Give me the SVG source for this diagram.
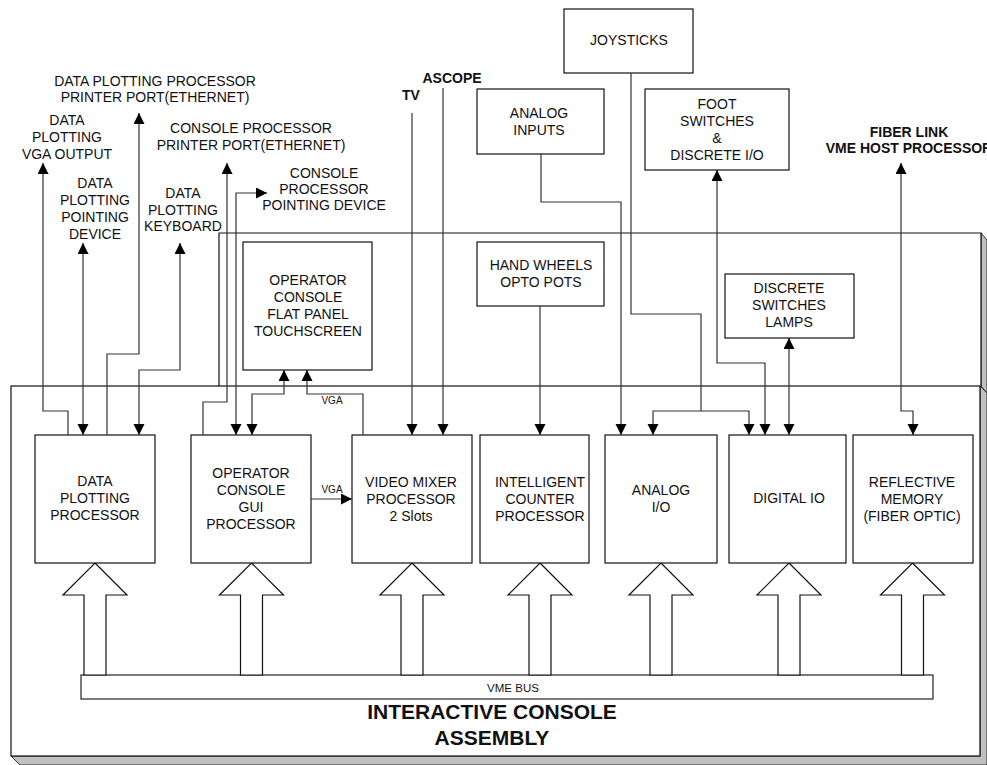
<svg xmlns="http://www.w3.org/2000/svg" width="987" height="765" viewBox="0 0 987 765">
<style>
.t{font-family:"Liberation Sans",Arial,sans-serif;font-size:14px;text-anchor:middle;fill:#111}
.b{font-weight:bold}
.s{font-size:10px}
.big{font-size:21px;font-weight:bold}
.box{fill:#fff;stroke:#111;stroke-width:1.2}
.frame{fill:#fff;stroke:#111;stroke-width:1.2}
.shade{fill:#c0c0c0;stroke:#333;stroke-width:1}
.bus{fill:#fff;stroke:#222;stroke-width:1.2}
.c{fill:none;stroke:#333;stroke-width:1.2}
.c1{marker-end:url(#ah)}
.c2{marker-start:url(#ah);marker-end:url(#ah)}
</style>
<defs>
<marker id="ah" markerUnits="userSpaceOnUse" markerWidth="12" markerHeight="12" refX="11" refY="5.5" orient="auto-start-reverse">
<path d="M0,0 L11,5.5 L0,11 z" fill="#000"/>
</marker>
</defs>
<rect width="987" height="765" fill="#fff"/>

<g id="console-assembly">
<polygon class="shade" points="981,233 987,240 987,393 981,386"/>
<path class="frame" d="M219,386 V233 H981 V386"/>
<polygon class="shade" points="980,386 987,393 987,765 20,765 11,756 980,756"/>
<rect class="frame" x="11" y="386" width="969" height="370"/>
<text class="t big" x="492" y="719">INTERACTIVE CONSOLE</text>
<text class="t big" x="492" y="745">ASSEMBLY</text>
</g>

<g id="vme-bus">
<rect class="bus" x="81" y="675" width="852" height="24"/>
<text class="t" style="font-size:11.5px" x="513" y="692">VME BUS</text>
</g>

<g id="bus-arrows">
<polygon class="box" points="95,563 127,595 106,595 106,675 84,675 84,595 63,595"/>
<polygon class="box" points="251.5,563 283.5,595 262.5,595 262.5,675 240.5,675 240.5,595 219.5,595"/>
<polygon class="box" points="412,563 444,595 423,595 423,675 401,675 401,595 380,595"/>
<polygon class="box" points="540,563 572,595 551,595 551,675 529,675 529,595 508,595"/>
<polygon class="box" points="661,563 693,595 672,595 672,675 650,675 650,595 629,595"/>
<polygon class="box" points="789,563 821,595 800,595 800,675 778,675 778,595 757,595"/>
<polygon class="box" points="912.5,563 944.5,595 923.5,595 923.5,675 901.5,675 901.5,595 880.5,595"/>
</g>

<g id="data-plotting-processor">
<rect class="box" x="35" y="435" width="120" height="128"/>
<text class="t" x="95" y="486">DATA</text>
<text class="t" x="95" y="503">PLOTTING</text>
<text class="t" x="95" y="520">PROCESSOR</text>
</g>

<g id="gui-processor">
<rect class="box" x="191" y="435" width="120" height="128"/>
<text class="t" x="251" y="478">OPERATOR</text>
<text class="t" x="251" y="495">CONSOLE</text>
<text class="t" x="251" y="512">GUI</text>
<text class="t" x="251" y="529">PROCESSOR</text>
</g>

<g id="video-mixer">
<rect class="box" x="352" y="435" width="120" height="128"/>
<text class="t" x="411" y="487">VIDEO MIXER</text>
<text class="t" x="411" y="504">PROCESSOR</text>
<text class="t" x="411" y="521">2 Slots</text>
</g>

<g id="intelligent-counter">
<rect class="box" x="480" y="435" width="109" height="128"/>
<text class="t" x="540" y="487">INTELLIGENT</text>
<text class="t" x="540" y="504">COUNTER</text>
<text class="t" x="540" y="521">PROCESSOR</text>
</g>

<g id="analog-io">
<rect class="box" x="605" y="435" width="112" height="128"/>
<text class="t" x="661" y="495">ANALOG</text>
<text class="t" x="661" y="512">I/O</text>
</g>

<g id="digital-io">
<rect class="box" x="729" y="435" width="117" height="128"/>
<text class="t" x="789" y="503">DIGITAL IO</text>
</g>

<g id="reflective-memory">
<rect class="box" x="853" y="435" width="120" height="128"/>
<text class="t" x="912" y="487">REFLECTIVE</text>
<text class="t" x="912" y="504">MEMORY</text>
<text class="t" x="912" y="521">(FIBER OPTIC)</text>
</g>

<g id="touchscreen">
<rect class="box" x="243" y="242" width="129" height="128"/>
<text class="t" x="308" y="285">OPERATOR</text>
<text class="t" x="308" y="302">CONSOLE</text>
<text class="t" x="308" y="319">FLAT PANEL</text>
<text class="t" x="308" y="336">TOUCHSCREEN</text>
</g>

<g id="hand-wheels">
<rect class="box" x="477" y="242" width="127" height="64"/>
<text class="t" x="541" y="270">HAND WHEELS</text>
<text class="t" x="541" y="287">OPTO POTS</text>
</g>

<g id="discrete-switches">
<rect class="box" x="725" y="274" width="129" height="64"/>
<text class="t" x="789" y="293">DISCRETE</text>
<text class="t" x="789" y="310">SWITCHES</text>
<text class="t" x="789" y="327">LAMPS</text>
</g>

<g id="joysticks">
<rect class="box" x="564" y="9" width="129" height="64"/>
<text class="t" x="629" y="45">JOYSTICKS</text>
</g>

<g id="analog-inputs">
<rect class="box" x="477" y="89" width="127" height="65"/>
<text class="t" x="539" y="118">ANALOG</text>
<text class="t" x="539" y="135">INPUTS</text>
</g>

<g id="foot-switches">
<rect class="box" x="645" y="89" width="144" height="81"/>
<text class="t" x="717" y="109">FOOT</text>
<text class="t" x="717" y="126">SWITCHES</text>
<text class="t" x="717" y="143">&amp;</text>
<text class="t" x="717" y="160">DISCRETE I/O</text>
</g>

<g id="external-labels">
<text class="t" x="155" y="86">DATA PLOTTING PROCESSOR</text>
<text class="t" x="155" y="102">PRINTER PORT(ETHERNET)</text>
<text class="t" x="67" y="125">DATA</text>
<text class="t" x="67" y="142">PLOTTING</text>
<text class="t" x="67" y="159">VGA OUTPUT</text>
<text class="t" x="251" y="133">CONSOLE PROCESSOR</text>
<text class="t" x="251" y="150">PRINTER PORT(ETHERNET)</text>
<text class="t" x="324" y="178">CONSOLE</text>
<text class="t" x="324" y="194">PROCESSOR</text>
<text class="t" x="324" y="210">POINTING DEVICE</text>
<text class="t" x="95" y="188">DATA</text>
<text class="t" x="95" y="205">PLOTTING</text>
<text class="t" x="95" y="222">POINTING</text>
<text class="t" x="95" y="239">DEVICE</text>
<text class="t" x="183" y="198">DATA</text>
<text class="t" x="183" y="214.5">PLOTTING</text>
<text class="t" x="183" y="231">KEYBOARD</text>
<text class="t b" x="411" y="100">TV</text>
<text class="t b" x="452" y="83">ASCOPE</text>
<text class="t b" x="909" y="137">FIBER LINK</text>
<text class="t b" x="909" y="153">VME HOST PROCESSOR</text>
</g>

<g id="connectors">
<path class="c c1" d="M68,435 V411 H43 V163"/>
<path class="c c2" d="M83,243 V435"/>
<path class="c c1" d="M107,435 V354 H139 V113"/>
<path class="c c2" d="M180,243 V370 H139 V435"/>
<path class="c c1" d="M203,435 V402 H227 V163"/>
<path class="c c2" d="M267,193 H236 V435"/>
<path class="c c2" d="M284,370 V394 H252 V435"/>
<path class="c c1" d="M311,499 H352"/>
<text class="t s" x="332" y="493">VGA</text>
<path class="c c1" d="M363,435 V394 H307 V370"/>
<text class="t s" x="332" y="404">VGA</text>
<path class="c c1" d="M412,113 V435"/>
<path class="c c1" d="M443,88 V435"/>
<path class="c c1" d="M540,306 V435"/>
<path class="c c1" d="M541,154 V202 H621 V435"/>
<path class="c" d="M631,73 V314 H701 V411"/>
<path class="c c1" d="M701,411 H653 V435"/>
<path class="c c1" d="M701,411 H749 V435"/>
<path class="c c2" d="M717,170 V363 H765 V435"/>
<path class="c c2" d="M789,338 V435"/>
<path class="c c2" d="M901,163 V411 H913 V435"/>
</g>
</svg>
